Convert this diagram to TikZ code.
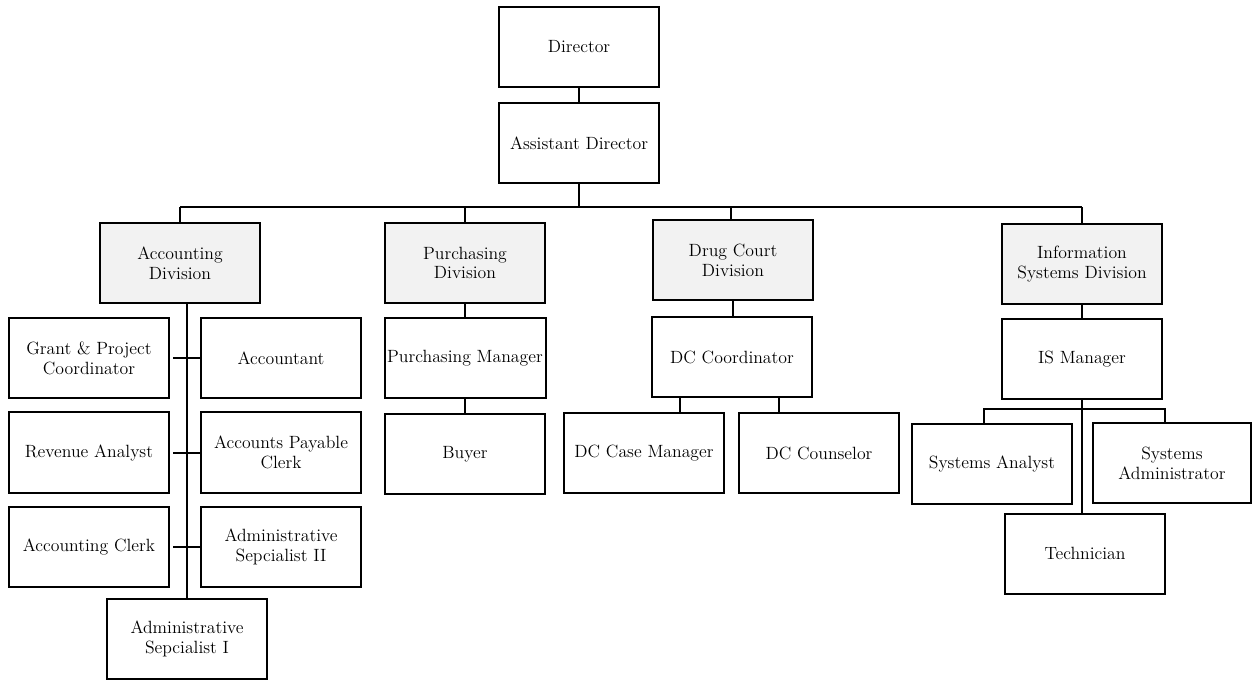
\documentclass[tikz,border=0pt]{standalone}
\usetikzlibrary{calc}
\definecolor{divfill}{HTML}{F2F2F2}
\begin{document}
\begin{tikzpicture}[x=0.75pt,y=-0.75pt,
  unit/.style={draw=black, line width=1.5pt, fill=white, inner sep=2pt,
    minimum width=120pt, minimum height=60pt, align=center,
    font=\fontsize{13.3}{14.8}\selectfont},
  division/.style={unit, fill=divfill},
  link/.style={line width=1.5pt, draw=black}]
\useasboundingbox (0,0) rectangle (1252,680);

% top of the chart
\node[unit] (dir) at (579,47) {Director};
\node[unit] (ad) at (579,143) {Assistant Director};

% divisions
\node[division] (acc) at (180,263) {Accounting\\Division};
\node[division] (pur) at (465,263) {Purchasing\\Division};
\node[division] (dc) at (733,260.5) {Drug Court\\Division};
\node[division] (isd) at (1082,264) {Information\\Systems Division};

% accounting staff
\node[unit] (gpc) at (89,358.5) {Grant \& Project\\Coordinator};
\node[unit] (acct) at (281,358.5) {Accountant};
\node[unit] (rev) at (89,452.5) {Revenue Analyst};
\node[unit] (apc) at (281,452.5) {Accounts Payable\\Clerk};
\node[unit] (acl) at (89,547) {Accounting Clerk};
\node[unit] (as2) at (281,547) {Administrative\\Sepcialist II};
\node[unit] (as1) at (187,639) {Administrative\\Sepcialist I};

% purchasing staff
\node[unit] (pm) at (465,358.5) {Purchasing Manager};
\node[unit] (buyer) at (465,454) {Buyer};

% drug court staff
\node[unit] (dcc) at (732,357) {DC Coordinator};
\node[unit] (dccm) at (644,453) {DC Case Manager};
\node[unit] (dcco) at (819,453) {DC Counselor};

% information systems staff
\node[unit] (ism) at (1082,359) {IS Manager};
\node[unit] (sa) at (992,464) {Systems Analyst};
\node[unit, minimum width=118.5pt] (sad) at (1172,463) {Systems\\Administrator};
\node[unit] (tech) at (1085,553.5) {Technician};

% connectors
\coordinate (busL) at (180,207);
\coordinate (busR) at (1082,207);
\draw[link] (dir.south) -- (ad.north);
\draw[link] (busL) -- (busR);
\draw[link] (ad.south) -- (ad.south |- busL);
\draw[link] (acc.north) -- (acc.north |- busL);
\draw[link] (pur.north) -- (pur.north |- busL);
\draw[link] ([xshift=-1.5pt]dc.north) -- ([xshift=-1.5pt]dc.north |- busL);
\draw[link] (isd.north) -- (isd.north |- busL);

% accounting spine and ticks
\draw[link] (as1.north) -- (as1.north |- acc.south);
\draw[link] (acct.west) -- ++(-27,0);
\draw[link] (apc.west) -- ++(-27,0);
\draw[link] (as2.west) -- ++(-27,0);

% purchasing chain
\draw[link] (pur.south) -- (pm.north);
\draw[link] (pm.south) -- (buyer.north);

% drug court
\draw[link] (dc.south) -- (dc.south |- dcc.north);
\draw[link] ([xshift=-39pt]dcc.south) -- ([xshift=-39pt]dcc.south |- dccm.north);
\draw[link] ([xshift=35.25pt]dcc.south) -- ([xshift=35.25pt]dcc.south |- dcco.north);

% information systems
\coordinate (isbus) at (1082,409);
\draw[link] (isd.south) -- (ism.north);
\draw[link] (ism.south) -- (ism.south |- tech.north);
\draw[link] ([xshift=-6pt]sa.north) |- (isbus) -| ([xshift=-5.25pt]sad.north);
\end{tikzpicture}
\end{document}
